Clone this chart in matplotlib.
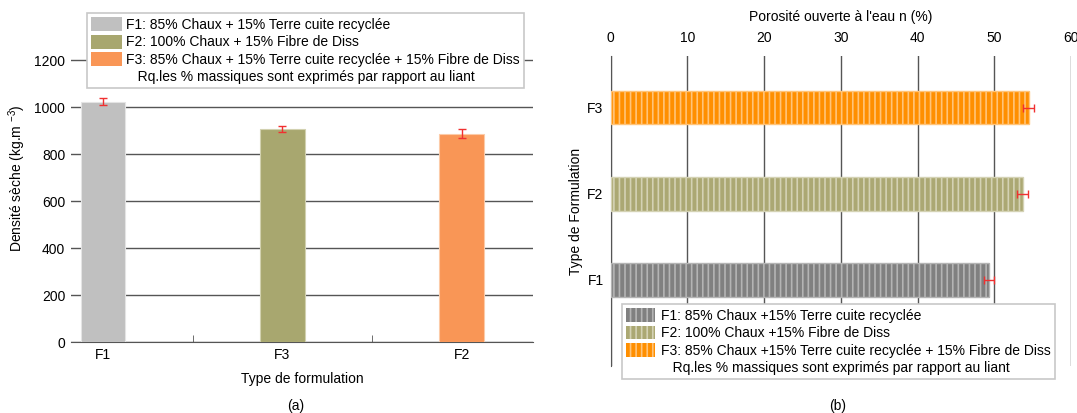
import matplotlib
matplotlib.use("Agg")
import matplotlib.pyplot as plt
from matplotlib.patches import Patch

plt.rcParams['font.family'] = ['Liberation Sans', 'DejaVu Sans']
plt.rcParams['font.size'] = 10
plt.rcParams['mathtext.fontset'] = 'custom'
plt.rcParams['mathtext.rm'] = 'Liberation Sans'
plt.rcParams['mathtext.it'] = 'Liberation Sans:italic'
plt.rcParams['hatch.linewidth'] = 1.2

# (a) densité sèche
cat_a = ['F1', 'F3', 'F2']
densite = [1024, 906, 888]
densite_err = [15, 13, 18]
couleurs_a = ['#C0C0C0', '#A8A76F', '#F99656']
bords_a = ['#E4E4E4', '#D2D1B0', '#FCCBA8']

# (b) porosité ouverte
cat_b = ['F1', 'F2', 'F3']
porosite = [49.3, 53.7, 54.5]
porosite_err = [0.7, 0.7, 0.7]
couleurs_b = ['#808080', '#ABA873', '#FF8F00']
rayures_b = ['#B4B4B4', '#D4D2B4', '#FFC47A']

legende_a = ['F1: 85% Chaux + 15% Terre cuite recyclée',
             'F2: 100% Chaux + 15% Fibre de Diss',
             'F3: 85% Chaux + 15% Terre cuite recyclée + 15% Fibre de Diss']
legende_b = ['F1: 85% Chaux +15% Terre cuite recyclée',
             'F2: 100% Chaux +15% Fibre de Diss',
             'F3: 85% Chaux +15% Terre cuite recyclée + 15% Fibre de Diss']
remarque = 'Rq.les % massiques sont exprimés par rapport au liant'

W, H = 1077, 413
fig = plt.figure(figsize=(W / 100, H / 100), dpi=100)


def rect(x0, x1, y0, y1):
    return [x0 / W, 1 - y1 / H, (x1 - x0) / W, (y1 - y0) / H]


grille = '#555555'

# ---------- (a) ----------
ax1 = fig.add_axes(rect(70.7, 533.3, 13.3, 342.3))
xa = range(len(cat_a))
ax1.bar(xa, densite, width=0.25, color=couleurs_a, edgecolor=bords_a,
        linewidth=0.8, zorder=3)
ax1.errorbar(xa, densite, yerr=densite_err, fmt='none', ecolor='#F03030',
             elinewidth=1, capsize=3, capthick=1, zorder=4)
ax1.set_xlim(-0.18, 2.4)
ax1.set_ylim(0, 1400)
ax1.set_yticks(range(0, 1201, 200))
ax1.set_xticks(list(xa))
ax1.set_xticklabels(cat_a)
ax1.set_xticks([0.5, 1.5], minor=True)
ax1.grid(axis='y', color=grille, linewidth=1, zorder=0)
for s in ['top', 'right', 'left']:
    ax1.spines[s].set_visible(False)
ax1.spines['bottom'].set_color(grille)
ax1.tick_params(axis='y', length=0, pad=4)
ax1.tick_params(axis='x', which='both', direction='in', length=5,
                color=grille, pad=4)
ax1.set_xlabel('Type de formulation', va='center')
ax1.xaxis.set_label_coords(0.5, (342.3 - 379) / 329)
ax1.set_ylabel('Densité sèche (kg.m $^{-3}$)', va='center')
ax1.yaxis.set_label_coords((17 - 70.7) / 462.6, 0.5)

poignees_a = [Patch(facecolor=c, edgecolor='none') for c in couleurs_a]
poignees_a.append(Patch(facecolor='none', edgecolor='none'))
leg1 = fig.legend(poignees_a, legende_a + ['   ' + remarque],
                  loc='upper left', bbox_to_anchor=(87 / W, 1 - 13.3 / H),
                  fancybox=False, framealpha=1, edgecolor='#C8C8C8',
                  handlelength=2.2, handleheight=1.15, handletextpad=0.3,
                  labelspacing=0.2, borderpad=0.3, borderaxespad=0)
leg1.get_frame().set_linewidth(1.2)

# ---------- (b) ----------
ax2 = fig.add_axes(rect(610.5, 1071, 56, 366))
yb = range(len(cat_b))
ax2.barh(yb, porosite, height=0.39, color=couleurs_b, edgecolor=rayures_b,
         linewidth=1, hatch='|||', zorder=3)
ax2.errorbar(porosite, yb, xerr=porosite_err, fmt='none', ecolor='#F03030',
             elinewidth=1, capsize=3, capthick=1, zorder=4)
ax2.set_xlim(0, 60)
ax2.set_ylim(-1, 2.6)
ax2.set_xticks(range(0, 61, 10))
ax2.set_yticks(list(yb))
ax2.set_yticklabels(cat_b)
ax2.grid(axis='x', color=grille, linewidth=1, zorder=0)
for s in ['top', 'right', 'bottom']:
    ax2.spines[s].set_visible(False)
ax2.spines['left'].set_color(grille)
ax2.tick_params(axis='x', top=True, bottom=False, labeltop=True,
                labelbottom=False, length=0, pad=8)
ax2.tick_params(axis='y', direction='in', length=4, color=grille, pad=5)
ax2.xaxis.set_label_position('top')
ax2.set_xlabel("Porosité ouverte à l'eau n (%)", va='center')
ax2.xaxis.set_label_coords(0.5, (366 - 17.3) / 310)
ax2.set_ylabel('Type de Formulation', va='center')
ax2.yaxis.set_label_coords((576 - 610.5) / 460.5, 0.5)

poignees_b = [Patch(facecolor=c, edgecolor=r, hatch='|||', linewidth=0)
              for c, r in zip(couleurs_b, rayures_b)]
poignees_b.append(Patch(facecolor='none', edgecolor='none'))
leg2 = fig.legend(poignees_b, legende_b + ['   ' + remarque],
                  loc='upper left', bbox_to_anchor=(622 / W, 1 - 304 / H),
                  fancybox=False, framealpha=1, edgecolor='#C8C8C8',
                  handlelength=2.1, handleheight=1.15, handletextpad=0.4,
                  labelspacing=0.2, borderpad=0.3, borderaxespad=0)
leg2.get_frame().set_linewidth(1.2)

fig.text(296 / W, 1 - 406 / H, '(a)', ha='center', va='center')
fig.text(838 / W, 1 - 406 / H, '(b)', ha='center', va='center')

fig.savefig('out.png', dpi=100)
